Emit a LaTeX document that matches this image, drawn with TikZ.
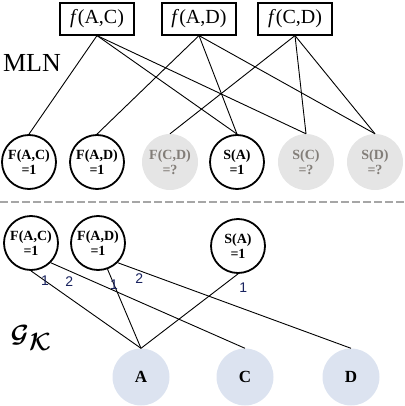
\documentclass[tikz,border=0pt]{standalone}
\usepackage{bm}
\usepackage{fontspec}
\setmainfont{Liberation Serif}
\newfontfamily\numfont{Liberation Sans}
\definecolor{entityblue}{RGB}{220,227,240}
\definecolor{unkgray}{RGB}{229,229,229}
\definecolor{unktext}{RGB}{130,125,120}
\definecolor{labelnavy}{RGB}{25,35,95}

\begin{document}
\begin{tikzpicture}[x=1pt,y=-1pt,
  factor/.style={draw,line width=1.2pt,minimum width=74pt,minimum height=32pt,inner sep=0pt,
    font=\fontsize{20}{24}\selectfont},
  known/.style={circle,draw,line width=1.8pt,minimum size=54pt,inner sep=0pt,align=center,
    font=\fontsize{14}{15}\selectfont\bfseries},
  unknown/.style={circle,fill=unkgray,text=unktext,minimum size=56pt,inner sep=0pt,align=center,
    font=\fontsize{14}{15}\selectfont\bfseries},
  entity/.style={circle,fill=entityblue,minimum size=57pt,inner sep=0pt,
    font=\fontsize{17}{20}\selectfont\bfseries},
  wire/.style={line width=0.9pt},
  weight/.style={font=\numfont\fontsize{14}{16}\selectfont,text=labelnavy,inner sep=1pt}]
  \useasboundingbox (0,0) rectangle (404,406);
  \node[factor] (fAC) at (97,19) {\textit{f}(A,C)};
  \node[factor] (fAD) at (199,19) {\textit{f}(A,D)};
  \node[factor] (fCD) at (295,19) {\textit{f}(C,D)};
  \node[font=\fontsize{26}{30}\selectfont] (mln) at (32,63) {MLN};
  \node[known] (FAC1) at (29,162) {F(A,C)\\=1};
  \node[known] (FAD1) at (97,162) {F(A,D)\\=1};
  \node[unknown] (FCD1) at (170,162) {F(C,D)\\=?};
  \node[known] (SA1) at (237,162) {S(A)\\=1};
  \node[unknown] (SC1) at (306,162) {S(C)\\=?};
  \node[unknown] (SD1) at (375,162) {S(D)\\=?};
  \foreach \f/\v in {fAC/FAC1,fAC/SA1,fAC/SC1,fAD/FAD1,fAD/SA1,fAD/SD1,fCD/FCD1,fCD/SC1,fCD/SD1}
    \draw[wire] (\f.south) -- (\v.north);
  \coordinate (cutL) at (0,202);
  \coordinate (cutR) at (404,202);
  \draw[gray!70,line width=1.6pt,dash pattern=on 8pt off 3pt] (cutL) -- (cutR);
  \node[known] (FAC2) at (31,243) {F(A,C)\\=1};
  \node[known] (FAD2) at (98,243) {F(A,D)\\=1};
  \node[known] (SA2) at (238,246) {S(A)\\=1};
  \node[entity] (A) at (141,377) {A};
  \node[entity] (C) at (245,377) {C};
  \node[entity] (D) at (351,377) {D};
  \node[font=\fontsize{38}{40}\selectfont] (gk) at (31,338) {$\bm{\mathcal{G}}_{\bm{\mathcal{K}}}$};
  \draw[wire] (FAC2.south) -- (A.north) node[weight,pos=0.127] {1};
  \draw[wire] (FAC2.-45) -- (C.north) node[weight,pos=0.096,below=4pt] {2};
  \draw[wire] (FAD2.-70) -- (A.north) node[weight,pos=0.19] {1};
  \draw[wire] (FAD2.-45) -- (D.north) node[weight,pos=0.092,below=2pt] {2};
  \draw[wire] (SA2.south) -- (A.north) node[weight,pos=0,anchor=north west,yshift=-8pt] {1};
\end{tikzpicture}
\end{document}
